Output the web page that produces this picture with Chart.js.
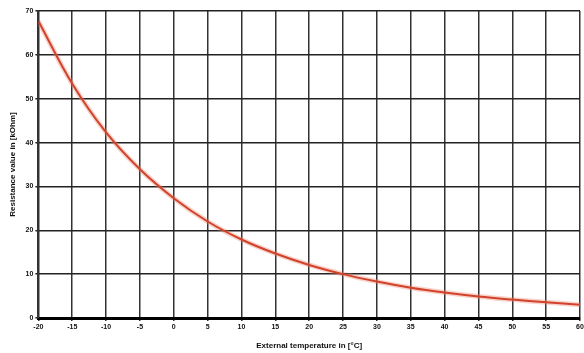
<!DOCTYPE html>
<html>
<head>
<meta charset="utf-8">
<script src="https://cdn.jsdelivr.net/npm/chart.js@4"></script>
<style>
  html, body { margin: 0; padding: 0; background: #fff; overflow: hidden; }
  #wrap { position: absolute; left: 0; top: 0; width: 600px; height: 353px; }
</style>
</head>
<body>
<div id="wrap"><canvas id="ntcChart"></canvas></div>
<script>
// temperatura externa (°C) e resistencia (kOhm)
var temperatures = [-20, -15, -10, -5, 0, 5, 10, 15, 20, 25, 30, 35, 40, 45, 50, 55, 60];
var resistance = [67.7, 53.4, 42.3, 33.9, 27.3, 22.0, 17.9, 14.7, 12.1, 10.0, 8.3, 6.9, 5.8, 4.9, 4.2, 3.6, 3.0];

var points = temperatures.map(function (t, i) { return { x: t, y: resistance[i] }; });

var tickFont = { family: 'Liberation Sans', size: 7, weight: 'bold' };
var titleFont = { family: 'Liberation Sans', size: 8, weight: 'bold' };

var ntcChart = new Chart(document.getElementById('ntcChart').getContext('2d'), {
  type: 'scatter',
  data: {
    datasets: [{
      data: points,
      showLine: true,
      borderColor: 'rgba(235,130,110,0.35)',
      borderWidth: 5,
      pointRadius: 0,
      tension: 0.4,
      order: 2
    }, {
      data: points,
      showLine: true,
      borderColor: '#d2432b',
      borderWidth: 2,
      pointRadius: 0,
      tension: 0.4,
      order: 1
    }]
  },
  options: {
    responsive: true,
    maintainAspectRatio: false,
    animation: false,
    layout: { padding: { top: 11, right: 20, left: 8, bottom: 2 } },
    plugins: { legend: { display: false }, tooltip: { enabled: false } },
    scales: {
      x: {
        type: 'linear',
        min: -20,
        max: 60,
        ticks: { stepSize: 5, color: '#111', font: tickFont, padding: 2, maxRotation: 0 },
        grid: { color: '#333', lineWidth: 1.5, tickLength: 3 },
        border: { color: '#000', width: 3 },
        title: { display: true, text: 'External temperature in [°C]', color: '#111', font: titleFont, padding: { top: 8, bottom: 0 } }
      },
      y: {
        min: 0,
        max: 70,
        ticks: { stepSize: 10, color: '#111', font: tickFont, padding: 2 },
        grid: { color: '#222', lineWidth: 1.5, tickLength: 3 },
        border: { color: '#333', width: 2 },
        title: { display: true, text: 'Resistance value in [kOhm]', color: '#111', font: titleFont, padding: { top: 0, bottom: 6 } }
      }
    }
  }
});
</script>
</body>
</html>
